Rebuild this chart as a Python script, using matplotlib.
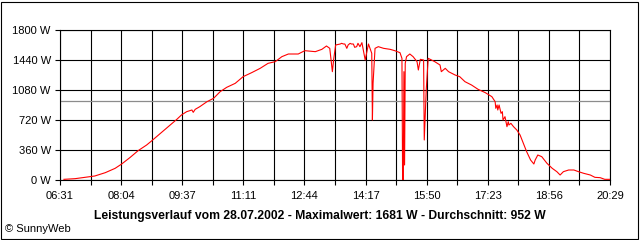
import numpy as np
import matplotlib
matplotlib.use("Agg")
import matplotlib.pyplot as plt
from matplotlib.patches import Rectangle

# minutes since midnight, power in W
minutes = [397, 414, 429, 444, 460, 475, 485, 498, 510, 523, 531, 541, 550, 559,
           569, 576, 584, 592, 594, 597, 604, 615, 625, 635, 645, 658, 670, 683,
           696, 708, 719, 729, 739, 754, 764, 780, 790, 797, 802, 806, 808, 811,
           818, 820, 823, 825, 828, 830, 833, 835, 838, 840, 843, 845, 848, 851,
           856, 861, 866, 867, 868, 871, 876, 884,
           894, 901, 909, 912, 913, 914, 915, 916, 917, 919, 924, 929, 935, 937,
           940, 945, 946, 949, 952, 962, 970, 972, 978, 983, 993, 1000, 1008,
           1018, 1028, 1039, 1049, 1054, 1055, 1057, 1058, 1060, 1063, 1065, 1066,
           1069, 1072, 1074, 1075, 1078, 1082, 1087, 1092, 1097, 1102, 1108,
           1113, 1115, 1119, 1125, 1133,
           1141, 1148, 1153, 1158, 1166, 1174, 1181, 1189, 1199, 1206, 1214,
           1221, 1229]
power = [8, 16, 32, 48, 88, 140, 192, 272, 352, 420, 472, 540, 600, 660,
         728, 780, 820, 840, 812, 848, 880, 940, 980, 1060, 1112, 1160, 1240, 1288,
         1340, 1400, 1420, 1480, 1512, 1512, 1552, 1540, 1568, 1608, 1580, 1300, 1450, 1620,
         1632, 1640, 1632, 1632, 1580, 1620, 1640, 1632, 1632, 1592, 1600, 1640, 1600, 1648,
         1440, 1632, 1520, 720, 1160, 1580, 1600, 1580,
         1568, 1552, 1528, 1460, 0, 0, 1300, 180, 1400, 1480, 1512, 1480, 1420, 1320,
         1448, 1440, 480, 1080, 1460, 1420, 1380, 1300, 1340, 1300, 1260, 1240, 1180,
         1140, 1088, 1048, 1000, 940, 860, 900, 840, 900, 800, 820, 720,
         760, 640, 700, 660, 680, 640, 600, 540, 440, 340, 240,
         192, 240, 300, 280, 200,
         140, 100, 60, 100, 120, 120, 100, 80, 60, 32, 28,
         8, 8]

average = 952
maximum = 1681
t_start, t_end = 391, 1229
time_labels = ['06:31', '08:04', '09:37', '11:11', '12:44',
               '14:17', '15:50', '17:23', '18:56', '20:29']
y_ticks = [0, 360, 720, 1080, 1440, 1800]

plt.rcParams['font.family'] = ['Liberation Sans', 'DejaVu Sans']
plt.rcParams['font.size'] = 8

fig = plt.figure(figsize=(6.4, 2.4), dpi=100)
ax = fig.add_axes([60 / 640, 60 / 240, 550 / 640, 150 / 240])

xt = np.linspace(t_start, t_end, 19)
xl = []
for i in range(19):
    xl.append(time_labels[i // 2] if i % 2 == 0 else '')
ax.set_xticks(xt)
ax.set_xticklabels(xl)
ax.set_yticks(y_ticks)
ax.set_yticklabels([str(v) + ' W' for v in y_ticks])
ax.set_xlim(t_start, t_end)
ax.set_ylim(0, 1800)

ax.grid(True, color='black', linewidth=0.8)
ax.axhline(average, color='#8c8c8c', linewidth=0.9, zorder=2.5)
ax.plot(minutes, power, color='red', linewidth=0.8, zorder=3)

for s in ax.spines.values():
    s.set_linewidth(0.8)
ax.tick_params(direction='out', length=3.6, width=0.8, pad=3, labelsize=8)
ax.tick_params(axis='x', pad=4)

fig.text(0.5, 1 - 216 / 240, 'Leistungsverlauf vom 28.07.2002 - Maximalwert: %d W - Durchschnitt: %d W'
         % (maximum, average), ha='center', va='center', fontweight='bold', fontsize=8.7)
fig.text(5 / 640, 1 - 229 / 240, '\u00a9 SunnyWeb', ha='left', va='center', fontsize=8)

# outer frame
fig.patches.append(Rectangle((1 / 640, 1 / 240), 637 / 640, 237 / 240, transform=fig.transFigure,
                             fill=False, edgecolor='black', linewidth=0.8))

fig.savefig('out.png', dpi=100)
